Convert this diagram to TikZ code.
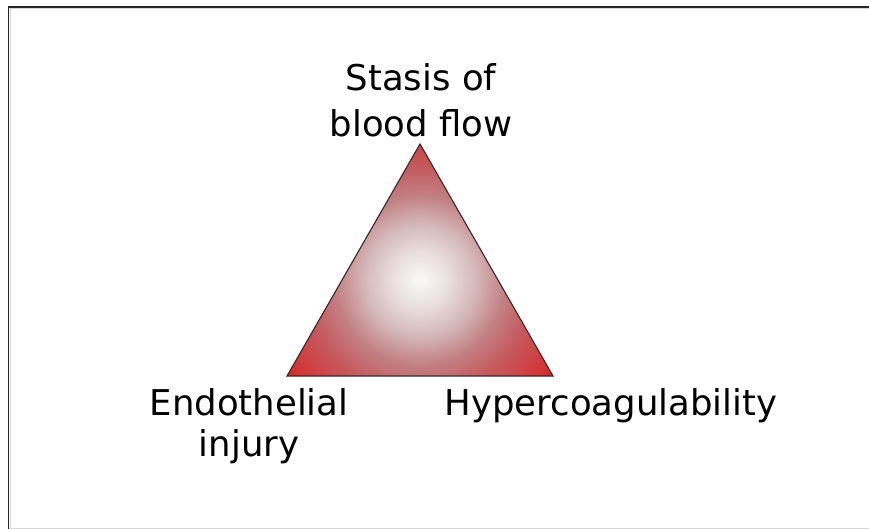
\documentclass[tikz,border=0pt]{standalone}
\usepackage{fontspec}
\setmainfont{DejaVu Sans}
\usetikzlibrary{positioning}

\definecolor{triwhite}{RGB}{250,250,250}
\definecolor{triblush}{RGB}{234,222,222}
\definecolor{trirose}{RGB}{212,184,185}
\definecolor{trimauve}{RGB}{194,128,131}
\definecolor{trimid}{RGB}{196,92,96}
\definecolor{clotred}{RGB}{214,44,44}
\definecolor{edgegray}{RGB}{55,40,40}
\definecolor{framegray}{RGB}{215,215,215}

% radius 200 of the shaded circle is 25bp here
\pgfdeclareradialshading{triad}{\pgfpoint{0bp}{0bp}}{%
  color(0bp)=(triwhite); color(3.5bp)=(triblush); color(7bp)=(trirose);
  color(10.6bp)=(trimauve); color(14bp)=(trimid); color(20bp)=(clotred);
  color(50bp)=(clotred)}

\begin{document}
\begin{tikzpicture}[x=1pt, y=-1pt]
		% styles
		\tikzset{
			lbl/.style={align=center, inner sep=0pt, font=\fontsize{35.5}{46}\selectfont},
			lbltight/.style={lbl, font=\fontsize{35.5}{41}\selectfont},
			frameline/.style={line width=1.6pt, black!85}
		}
		\useasboundingbox (0,0) rectangle (869,529);

		% frame
		\draw[framegray, line width=1pt] (10,8.8) -- (869,8.8);
		\draw[framegray, line width=1pt] (10.5,8.8) -- (10.5,529);
		\draw[framegray, line width=1pt] (8.5,528) -- (869,528);
		\draw[frameline] (8.5,529) -- (8.5,6.8) -- (869,6.8);

		% triangle corners
		\coordinate (apex) at (420,144);
		\coordinate (lcorner) at (287,376);
		\coordinate (rcorner) at (553,376);
		\coordinate (centre) at (420,280);

		% shaded triangle
		\begin{scope}
			\clip (apex) -- (lcorner) -- (rcorner) -- cycle;
			\shade[shading=triad] (centre) circle (200);
		\end{scope}
		\draw[edgegray, line width=1.1pt, line join=miter] (apex) -- (lcorner) -- (rcorner) -- cycle;

		% labels (base = last line)
		\node[lbl, anchor=base] (stasis) at (421,137) {Stasis of\\blood flow};
		\node[lbltight, anchor=base] (endo) at (249,456) {Endothelial\\injury};
		\node[lbl, anchor=base] (hyper) at (611,415) {Hypercoagulability};
\end{tikzpicture}
\end{document}
